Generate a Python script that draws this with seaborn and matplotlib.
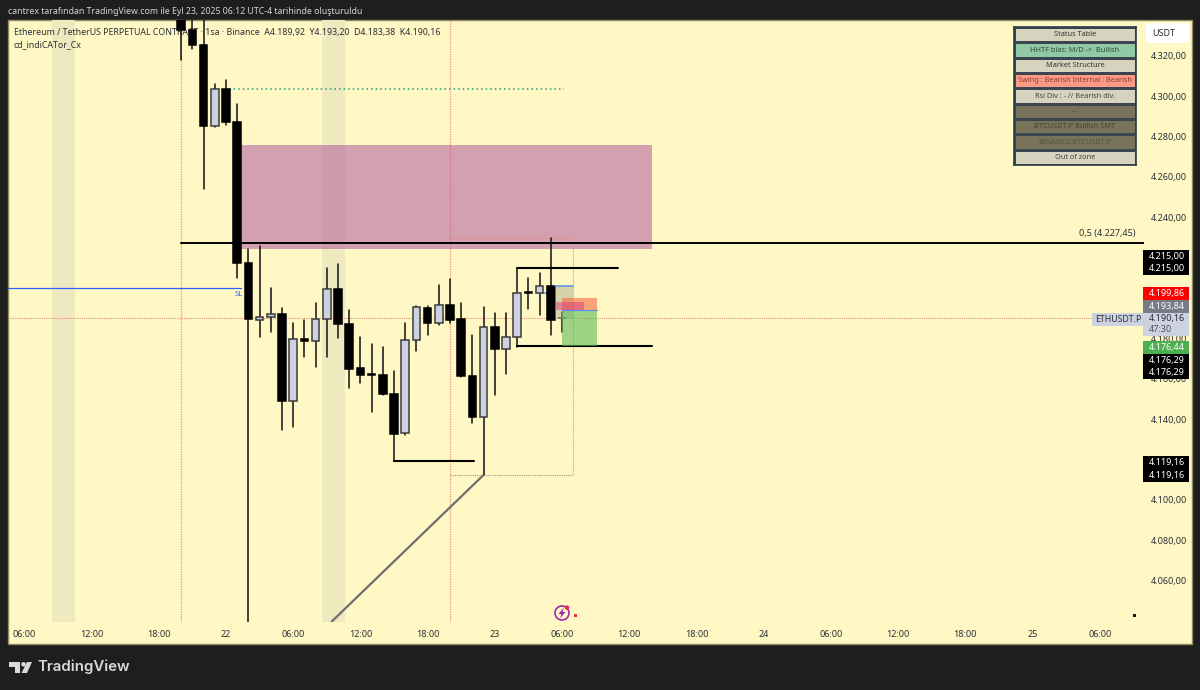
import numpy as np
import pandas as pd
import seaborn as sns
import matplotlib
# headless
matplotlib.use("Agg")

import matplotlib.pyplot as plt
from matplotlib.colors import ListedColormap
from matplotlib.patches import Rectangle, Circle, Polygon, FancyBboxPatch
from matplotlib.ticker import FixedLocator, FixedFormatter

# candles, hours since Sep 22 00:00
hours = [-4, -3, -2, -1, 0, 1, 2, 3, 4, 5, 6, 7, 8, 9, 10, 11, 12, 13,
         14, 15, 16, 17, 18, 19, 20, 21, 22, 23, 24, 25, 26, 27, 28, 29, 30]
opens = [4342, 4332.9, 4325.5, 4285.3, 4303.6, 4287.3, 4217.4, 4189.1, 4190.6, 4192.1, 4149, 4179.7,
         4178.7, 4189.6, 4204.5, 4187.2, 4165.3, 4162.4, 4161.9, 4152.4, 4133.1, 4179.2, 4195.1, 4187.6,
         4196.6, 4189.6, 4161.4, 4141, 4185.7, 4174.8, 4180.7, 4202.9, 4202.5, 4206, 4189.92]
highs = [4345, 4338, 4345, 4306.1, 4308.1, 4296.2, 4224.3, 4225.8, 4205, 4195.1, 4187.6, 4189.1,
         4197.6, 4214.9, 4216.9, 4194.1, 4180.7, 4177.2, 4175.7, 4163.9, 4187.6, 4195.8, 4196.1, 4206.5,
         4209.5, 4197.6, 4181.7, 4195.6, 4192.6, 4192.6, 4214.4, 4210, 4212.4, 4229.8, 4193.2]
lows = [4318, 4323.5, 4254.1, 4284.8, 4285.8, 4210, 4030, 4180.7, 4183.2, 4134.6, 4136, 4170.8,
        4165.8, 4170.8, 4180.2, 4155.4, 4157.9, 4143.5, 4152, 4119.16, 4132.1, 4173.8, 4181.7, 4186.7,
        4187.6, 4160.9, 4138, 4112.3, 4151.9, 4162.4, 4175.7, 4194.6, 4191.6, 4181.7, 4183.38]
closes = [4332.9, 4325.5, 4285.3, 4303.6, 4287.3, 4217.4, 4189.6, 4190.6, 4192.1, 4149, 4179.7, 4178.7,
          4189.6, 4204.5, 4187.2, 4164.8, 4161.9, 4161.9, 4152.4, 4132.6, 4179.2, 4195.6, 4187.6, 4196.6,
          4189.1, 4161.4, 4141, 4185.7, 4174.8, 4180.7, 4202.5, 4202.5, 4206, 4189.1, 4190.16]

# levels on the chart
mid_level = 4227.45
sl_level = 4205
dotted_level = 4303.4
last_price = 4190.16
high_level = 4215.0
low_level = 4176.29
swing_low = 4119.16
zone_prices = (4224.5, 4275.6)
zone_hours = (1, 38)
session_hours = [(-15.5, -13.5), (8.6, 10.6)]
day_marks = [-4, 20]

# position boxes
tp_prices = (4176.44, 4193.84)
stop_prices = (4193.84, 4199.86)
box_hours = (30, 33.1)

# axes
price_ticks = [4320, 4300, 4280, 4260, 4240, 4180, 4160, 4140, 4100, 4080, 4060]
time_ticks = [-18, -12, -6, 0, 6, 12, 18, 24, 30, 36, 42, 48, 54, 60, 66, 72, 78]
time_labels = ["06:00", "12:00", "18:00", "22", "06:00", "12:00", "18:00", "23", "06:00", "12:00",
               "18:00", "24", "06:00", "12:00", "18:00", "25", "06:00"]

# status table
table_rows = ["Status Table", "HHTF bias: M/D ->  Bullish", "Market Structure",
              "Swing : Bearish Internal : Bearish", "Rsi Div : - // Bearish div.", "---",
              "BTCUSDT.P Bullish SMT", "BINANCE:BTCUSDT.P", "Out of zone"]
table_colors = ["#D6D4BE", "#90C9A3", "#D6D4BE", "#FC9A86", "#D6D4BE", "#77745A", "#77745A", "#77745A", "#D6D4BE"]
table_text = ["#333333", "#2F4A3A", "#333333", "#8C3A30", "#444444", "#55533F", "#44432F", "#55533F", "#444444"]

# price tags on the axis: text, fill, text colour, top pixel, bottom pixel
price_tags = [("4.215,00", "#000000", "#FFFFFF", 250, 262), ("4.215,00", "#000000", "#FFFFFF", 262, 275),
              ("4.199,86", "#FF0000", "#FFFFFF", 287, 300), ("4.193,84", "#787B86", "#FFFFFF", 300, 313),
              ("4.176,44", "#4CAF50", "#FFFFFF", 341, 354), ("4.176,29", "#000000", "#FFFFFF", 354, 366),
              ("4.176,29", "#000000", "#FFFFFF", 366, 379), ("4.119,16", "#000000", "#FFFFFF", 456, 469),
              ("4.119,16", "#000000", "#FFFFFF", 469, 482)]

BG = "#FFF8C4"
DARK = "#1E1E1E"
TXT = "#2A2E39"
FS = 6.5

sns.set_theme(style="white")
plt.rcParams["font.family"] = ["Noto Sans", "DejaVu Sans"]

W, H = 1200, 690
fig = plt.figure(figsize=(12, 6.9), dpi=100, facecolor=DARK)


def px_axes(left, top, right, bottom, **kw):
    return fig.add_axes([left / W, 1 - bottom / H, (right - left) / W, (bottom - top) / H], **kw)


# panel behind everything
back = fig.add_axes([0, 0, 1, 1], zorder=0)
back.set_xlim(0, W)
back.set_ylim(H, 0)
back.axis("off")
back.add_patch(Rectangle((7.5, 19.5), 1184.5, 624, fc=BG, ec="#8F8B62", lw=1))

ax = px_axes(8, 20, 1144, 622, zorder=1, facecolor="none")

df = pd.DataFrame({"hour": hours, "open": opens, "high": highs, "low": lows, "close": closes})
df["up"] = df["close"] > df["open"]
df["bottom"] = df[["open", "close"]].min(axis=1)
df["body"] = (df["open"] - df["close"]).abs()

wicks = df.melt(id_vars="hour", value_vars=["high", "low"], value_name="price")
sns.lineplot(data=wicks, x="hour", y="price", units="hour", estimator=None, color="#111111",
             lw=1.1, zorder=4, ax=ax, legend=False)

for up, fill, edge in [(False, "#000000", "#000000"), (True, "#CDD2E0", "#3C3C3C")]:
    sub = df[df["up"] == up].sort_values("hour")
    sns.barplot(data=sub, x="hour", y="body", bottom=sub["bottom"].values, native_scale=True, orient="x",
                errorbar=None, width=0.68, color=fill, saturation=1, edgecolor=edge, linewidth=1.1,
                zorder=5, ax=ax)

ax.set_xlim(-19.46, 81.96)
ax.set_ylim(4039.4, 4337.8)
ax.set_xlabel("")
ax.set_ylabel("")

for a, b in session_hours:
    ax.axvspan(a, b, color="#EFE9C0", lw=0, zorder=0.5)
ax.add_patch(Rectangle((zone_hours[0], zone_prices[0]), zone_hours[1] - zone_hours[0],
                       zone_prices[1] - zone_prices[0], fc="#B0589F", alpha=0.55, lw=0, zorder=2))
for h in day_marks:
    ax.axvline(h, color="#F08A80", lw=0.9, ls=(0, (1, 1)), zorder=1)

ax.plot([-4, 81.96], [mid_level, mid_level], color="#000000", lw=1.4, zorder=6)
ax.plot([-19.46, 1.3], [sl_level, sl_level], color="#2962FF", lw=0.9, zorder=3)
ax.plot([0.3, 30.2], [dotted_level, dotted_level], color="#1F9E78", lw=1.1, ls=(0, (1, 2)), zorder=3)
ax.plot([-19.46, 77.5], [last_price, last_price], color="#F08A80", lw=0.8, ls=(0, (1, 1)), zorder=3)
ax.plot([15, 22.1], [swing_low, swing_low], color="#000000", lw=1.5, zorder=6)
ax.plot([26, 35], [high_level, high_level], color="#000000", lw=1.5, zorder=6)
ax.plot([26, 38], [low_level, low_level], color="#000000", lw=1.5, zorder=6)
ax.plot([9.4, 23], [4039.4, 4112.3], color="#6E6E6E", lw=1.6, zorder=3, solid_capstyle="butt")

# dotted range box
ax.plot([20, 31, 31], [4229.8, 4229.8, 4112.3], color="#F08A80", lw=0.8, ls=(0, (1, 1)), zorder=3)
ax.plot([20, 31], [4112.3, 4112.3], color="#A09A80", lw=0.8, ls=(0, (1, 1)), zorder=3)

# trade boxes
ax.add_patch(Rectangle((29.4, 4189.6), 1.6, 16.4, fc="#A8A48C", alpha=0.45, lw=0, zorder=6))
ax.plot([29.4, 31], [4206, 4206], color="#5B8DEF", lw=1.1, zorder=6)
ax.plot([28, 29], [4202.5, 4202.5], color="#5B8DEF", lw=1.1, zorder=4)
ax.add_patch(Rectangle((box_hours[0], tp_prices[0]), box_hours[1] - box_hours[0], tp_prices[1] - tp_prices[0],
                       fc="#5DBB5A", alpha=0.6, lw=0, zorder=6))
ax.add_patch(Rectangle((box_hours[0], stop_prices[0]), box_hours[1] - box_hours[0],
                       stop_prices[1] - stop_prices[0], fc="#FB6A45", alpha=0.6, lw=0, zorder=6))
ax.plot(box_hours, [tp_prices[1], tp_prices[1]], color="#5B8DEF", lw=0.9, zorder=6)
ax.add_patch(Rectangle((29.4, 4193.84), 2.6, 4.0, fc="#D8407F", alpha=0.5, lw=0, zorder=7))

ax.text(0.8, 4201.6, "SL", color="#2962FF", fontsize=5.5, ha="left", va="center", zorder=3)
ax.text(81.2, mid_level + 4.6, "0,5 (4.227,45)", color=TXT, fontsize=FS, ha="right", va="center", zorder=6)

ax.yaxis.tick_right()
ax.yaxis.set_major_locator(FixedLocator(price_ticks))
ax.yaxis.set_major_formatter(FixedFormatter([f"{p:,.0f}".replace(",", ".") + ",00" for p in price_ticks]))
ax.set_xticks(time_ticks, labels=time_labels)
ax.tick_params(axis="y", length=0, pad=5, labelsize=FS, labelcolor=TXT)
ax.tick_params(axis="x", length=0, pad=6, labelsize=FS, labelcolor=TXT)
for lab, text in zip(ax.get_xticklabels(), time_labels):
    if len(text) == 2:
        lab.set_fontweight("bold")
for s in ax.spines.values():
    s.set_visible(False)

# legend lines sit under the candles
ax.text(14, 32, "Ethereum / TetherUS PERPETUAL CONTRACT · 1sa · Binance  A4.189,92  Y4.193,20  D4.183,38  K4.190,16",
        transform=back.transData, fontsize=6.35, color=TXT, va="center", zorder=1)
ax.text(14, 45, "cd_indiCATor_Cx", transform=back.transData, fontsize=6.35, color=TXT, va="center", zorder=1)

# everything pinned to pixels goes on top
top = fig.add_axes([0, 0, 1, 1], zorder=3, facecolor="none")
top.set_xlim(0, W)
top.set_ylim(H, 0)
top.axis("off")

top.text(8, 11, "cantrex tarafından TradingView.com ile Eyl 23, 2025 06:12 UTC-4 tarihinde oluşturuldu",
         color="#D6D6D6", fontsize=6.3, va="center")

for label, fill, color, y0, y1 in price_tags:
    top.add_patch(Rectangle((1143, y0), 46, y1 - y0, fc=fill, lw=0))
    top.text(1149, (y0 + y1) / 2, label, color=color, fontsize=FS, va="center", fontweight="bold")
top.add_patch(Rectangle((1143, 313), 46, 23, fc="#CDD2E0", lw=0))
top.text(1149, 319, "4.190,16", color=TXT, fontsize=FS, va="center")
top.text(1149, 329, "47:30", color="#50535E", fontsize=FS, va="center")
top.add_patch(Rectangle((1092, 313), 51, 13, fc="#CDD2E0", lw=0))
top.text(1095, 319.5, "ETHUSDT.P", color=TXT, fontsize=6.3, va="center")
top.add_patch(FancyBboxPatch((1148, 25), 39, 16, boxstyle="round,pad=2,rounding_size=3", fc="#FFFFFF", lw=0))
top.text(1152, 33, "USDT", color=TXT, fontsize=FS, va="center")

# lightning icon and small markers
top.add_patch(Circle((562, 613), 7, fc="none", ec="#9C27B0", lw=1.2))
top.add_patch(Polygon([(564, 607.5), (558.5, 614), (561.5, 614), (560, 618.5), (565.5, 612), (562.5, 612)],
                      fc="#9C27B0", lw=0))
top.add_patch(Circle((567, 607.5), 2.2, fc="#F0264A", lw=0))
top.add_patch(Rectangle((574, 613.5), 3, 3, fc="#F0264A", lw=0))
top.add_patch(Rectangle((1133, 613.5), 3, 3, fc="#131722", lw=0))

# logo
logo = "#D9D9D9"
top.add_patch(Polygon([(9, 662), (20, 662), (20, 673), (15, 673), (15, 666.5), (9, 666.5)], fc=logo, lw=0))
top.add_patch(Circle((23.5, 664.3), 2.3, fc=logo, lw=0))
top.add_patch(Polygon([(27, 662), (32, 662), (27, 673), (21.5, 673)], fc=logo, lw=0))
top.text(37, 667, "TradingView", color=logo, fontsize=10.8, va="center", family=["Inter", "DejaVu Sans"], fontweight="semibold")

# status table
tab = px_axes(1014, 27, 1136, 165, zorder=4)
cells = np.arange(len(table_rows)).reshape(-1, 1)
annot = np.array(table_rows).reshape(-1, 1)
sns.heatmap(cells, cmap=ListedColormap(table_colors), vmin=-0.5, vmax=len(table_rows) - 0.5, cbar=False,
            annot=annot, fmt="", annot_kws={"fontsize": 5.3}, linewidths=0.8, linecolor="#3A4550",
            xticklabels=False, yticklabels=False, ax=tab)
for t, c in zip(tab.texts, table_text):
    t.set_color(c)
for s in tab.spines.values():
    s.set_visible(True)
    s.set_color("#2F3B45")
    s.set_linewidth(1.2)

fig.savefig("out.png", dpi=100, facecolor=DARK)
